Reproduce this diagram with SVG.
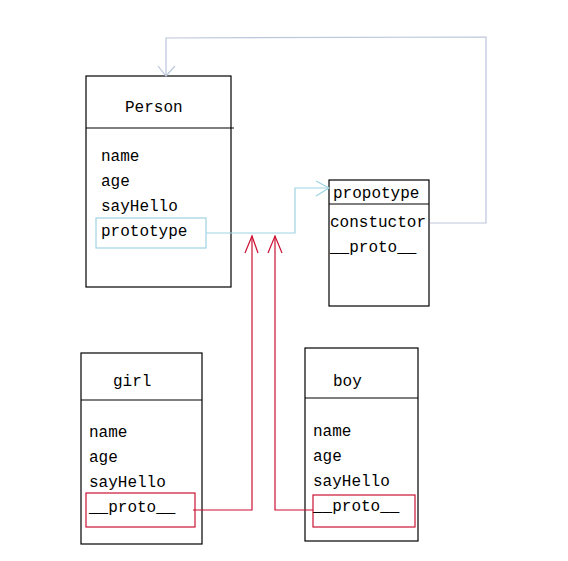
<svg xmlns="http://www.w3.org/2000/svg" width="568" height="561" viewBox="0 0 568 561">
<style>
.box{fill:#fff;stroke:#000;stroke-width:1.2}
.div{stroke:#000;stroke-width:1.2}
text{font-family:"Liberation Mono","DejaVu Sans Mono",monospace;font-size:16px;fill:#000}
.blue{fill:none;stroke:#9fd3e3;stroke-width:1.2}
.gray{fill:none;stroke:#bcc6dc;stroke-width:1.2}
.red{fill:none;stroke:#cc1133;stroke-width:1.2}
</style>
<rect width="568" height="561" fill="#fff"/>
<g id="person">
<rect class="box" x="86" y="76" width="145" height="211"/>
<line class="div" x1="86" y1="128" x2="234" y2="128"/>
<text x="125" y="112">Person</text>
<text x="101" y="161">name</text>
<text x="101" y="186">age</text>
<text x="101" y="211">sayHello</text>
<rect class="blue" x="96" y="218" width="110" height="30"/>
<text x="101" y="236">prototype</text>
</g>
<g id="propotype">
<rect class="box" x="329" y="180" width="100" height="126"/>
<line class="div" x1="329" y1="204" x2="429" y2="204"/>
<text x="333" y="198">propotype</text>
<text x="330" y="227">constuctor</text>
<text x="330" y="252">__proto__</text>
</g>
<g id="girl">
<rect class="box" x="81" y="353" width="121" height="191"/>
<line class="div" x1="81" y1="400" x2="202" y2="400"/>
<text x="113" y="386">girl</text>
<text x="89" y="437">name</text>
<text x="89" y="462">age</text>
<text x="89" y="487">sayHello</text>
<rect class="red" x="86" y="493" width="109" height="34"/>
<text x="89" y="512">__proto__</text>
</g>
<g id="boy">
<rect class="box" x="305" y="348" width="113" height="193"/>
<line class="div" x1="305" y1="398" x2="418" y2="398"/>
<text x="333" y="386">boy</text>
<text x="313" y="436">name</text>
<text x="313" y="461">age</text>
<text x="313" y="486">sayHello</text>
<rect class="red" x="313" y="495" width="102" height="32"/>
<text x="313" y="511">__proto__</text>
</g>
<g id="connectors">
<polyline class="blue" points="206,233 295,233 295,188 329,188"/>
<polyline class="blue" points="316,181 329,188 316,196"/>
<polyline class="gray" points="430,223 486,223 486,37 166,38 166,76"/>
<polyline class="gray" points="158,66 166,76 175,66"/>
<polyline class="red" points="193,510 252,510 252,236"/>
<polyline class="red" points="245,253 252,236 258,253"/>
<polyline class="red" points="313,510 275,510 275,236"/>
<polyline class="red" points="268,253 275,236 282,253"/>
</g>
</svg>
